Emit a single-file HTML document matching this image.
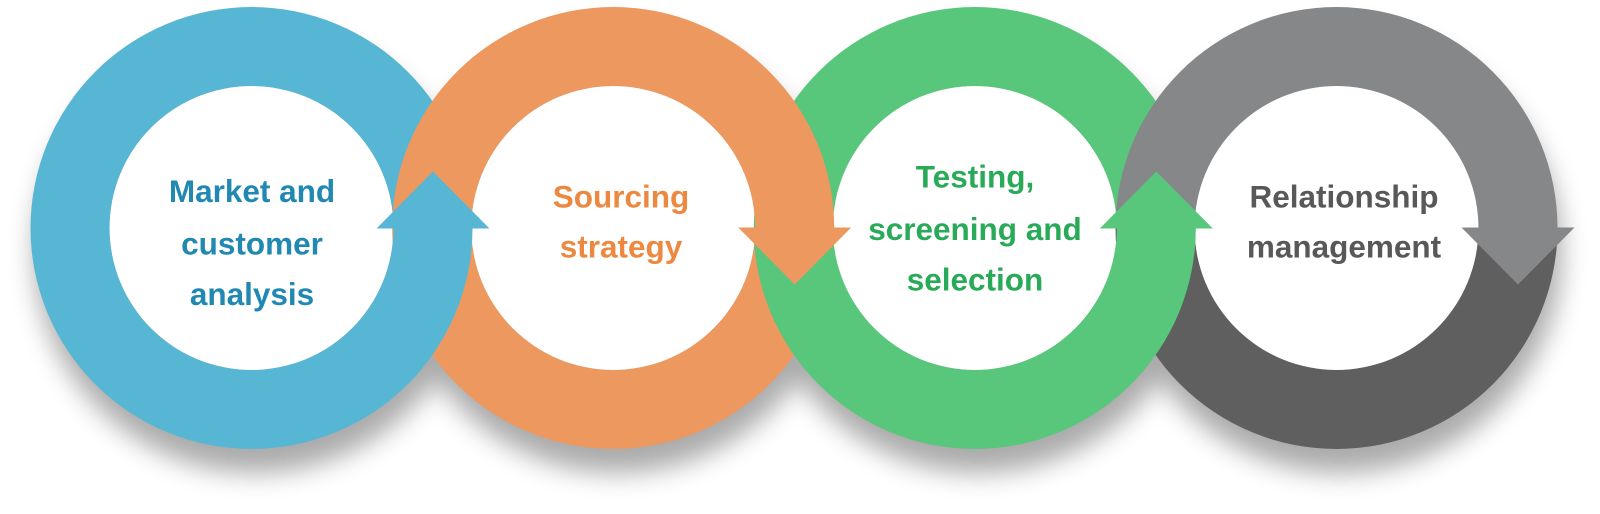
<!DOCTYPE html>
<html>
<head>
<meta charset="utf-8">
<style>
  html, body { margin: 0; padding: 0; background: #ffffff; }
  svg { display: block; }
  text { font-family: "Liberation Sans", Arial, sans-serif; font-weight: bold; font-size: 31.5px; text-anchor: middle; }
</style>
</head>
<body>
<svg width="1600" height="514" viewBox="0 0 1600 514" xmlns="http://www.w3.org/2000/svg">
  <defs>
    <filter id="sh" x="-20%" y="-30%" width="140%" height="170%">
      <feGaussianBlur stdDeviation="13"/>
    </filter>
  </defs>
  <rect x="0" y="0" width="1600" height="514" fill="#ffffff"/>

  <!-- shadows -->
  <g opacity="0.33" filter="url(#sh)">
    <g transform="translate(4,24)" fill="#000">
      <circle cx="251.5" cy="228" r="221"/>
      <circle cx="613.2" cy="228" r="221"/>
      <circle cx="974.8" cy="228" r="221"/>
      <circle cx="1336.5" cy="228" r="221"/>
    </g>
  </g>

  <!-- white holes -->
  <g fill="#ffffff">
    <circle cx="251.5" cy="228" r="142"/>
    <circle cx="613.2" cy="228" r="142"/>
    <circle cx="974.8" cy="228" r="142"/>
    <circle cx="1336.5" cy="228" r="142"/>
  </g>

  <!-- odd bottoms: orange, gray -->
  <path fill="#ed985e" d="M392.2,228 A221,221 0 0 0 834.2,228 L755.2,228 A142,142 0 0 1 471.2,228 Z"/>
  <path fill="#5f5f5f" d="M1115.5,228 A221,221 0 0 0 1557.5,228 L1478.5,228 A142,142 0 0 1 1194.5,228 Z"/>

  <!-- even bottoms: blue, green -->
  <path fill="#58b6d5" d="M30.5,228 A221,221 0 0 0 472.5,228 L393.5,228 A142,142 0 0 1 109.5,228 Z"/>
  <path fill="#58c67b" d="M753.8,228 A221,221 0 0 0 1195.8,228 L1116.8,228 A142,142 0 0 1 832.8,228 Z"/>

  <!-- even tops: blue, green -->
  <path fill="#58b6d5" d="M30.5,228 A221,221 0 0 1 472.5,228 L393.5,228 A142,142 0 0 0 109.5,228 Z"/>
  <path fill="#58c67b" d="M753.8,228 A221,221 0 0 1 1195.8,228 L1116.8,228 A142,142 0 0 0 832.8,228 Z"/>

  <!-- odd tops: orange, gray -->
  <path fill="#ed985e" d="M392.2,228 A221,221 0 0 1 834.2,228 L755.2,228 A142,142 0 0 0 471.2,228 Z"/>
  <path fill="#868789" d="M1115.5,228 A221,221 0 0 1 1557.5,228 L1478.5,228 A142,142 0 0 0 1194.5,228 Z"/>

  <!-- arrows -->
  <polygon fill="#58b6d5" points="376.5,228.5 433,171.5 489.5,228.5"/>
  <polygon fill="#ed985e" points="738.2,227.5 794.7,284.5 851.2,227.5"/>
  <polygon fill="#58c67b" points="1099.8,228.5 1156.3,171.5 1212.8,228.5"/>
  <polygon fill="#868789" points="1461.5,227.5 1518,284.5 1574.5,227.5"/>

  <!-- labels -->
  <g fill="#2188b2">
    <text x="252" y="202">Market and</text>
    <text x="252" y="254.5">customer</text>
    <text x="252" y="305">analysis</text>
  </g>
  <g fill="#ec8840">
    <text x="621" y="207.5">Sourcing</text>
    <text x="621" y="257.5">strategy</text>
  </g>
  <g fill="#29aa58">
    <text x="975" y="187.5">Testing,</text>
    <text x="975" y="240">screening and</text>
    <text x="975" y="290.5">selection</text>
  </g>
  <g fill="#585858">
    <text x="1344" y="207.5">Relationship</text>
    <text x="1344" y="257.5">management</text>
  </g>
</svg>
</body>
</html>
